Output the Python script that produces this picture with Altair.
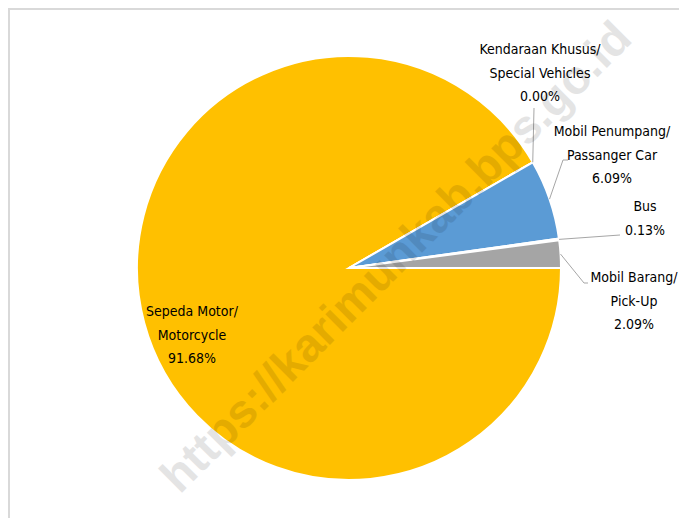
import math
import altair as alt
import pandas as pd

# ---- data (clockwise from 3 o'clock) ----
keys = ["motor", "khusus", "penumpang", "bus", "barang"]
categories = ["Sepeda Motor/\nMotorcycle", "Kendaraan Khusus/\nSpecial Vehicles",
              "Mobil Penumpang/\nPassanger Car", "Bus", "Mobil Barang/\nPick-Up"]
shares = [91.68, 0.00, 6.09, 0.13, 2.09]
colors = ["#FFC000", "#4472C4", "#5B9BD5", "#ED7D31", "#A5A5A5"]
watermark = "https://karimunkab.bps.go.id"

# ---- layout (pixels) ----
W, H = 671, 510
CX, CY, R = 341, 260, 212
FONT = "DejaVu Sans Condensed, Liberation Sans Narrow, sans-serif"
# label first-line centre and leader-line bend points
label_pos = {
    "motor": (184, 304),
    "khusus": (532, 42),
    "penumpang": (604, 124),
    "bus": (637, 199),
    "barang": (626, 270),
}
leader_bends = {
    "khusus": [(526, 100)],
    "penumpang": [(555, 152), (560, 152)],
    "bus": [(612, 227)],
    "barang": [(576, 275), (580, 275)],
}

df = pd.DataFrame({
    "key": keys,
    "name": categories,
    "share": shares,
    "ord": list(range(len(keys))),
})
df["label"] = [f"{n}\n{s:.2f}%" for n, s in zip(categories, shares)]

# mid angles (vega convention: clockwise from 12 o'clock), start at 3 o'clock
start = math.pi / 2
total = sum(shares)
mids = {}
acc = 0.0
for k, s in zip(keys, shares):
    a0 = start + 2 * math.pi * acc / total
    acc += s
    a1 = start + 2 * math.pi * acc / total
    mids[k] = (a0 + a1) / 2

df["lx"] = [label_pos[k][0] for k in keys]
df["ly"] = [label_pos[k][1] for k in keys]

rows = []
for k, pts in leader_bends.items():
    a = mids[k]
    rows.append({"key": k, "seq": 0, "px": CX + R * math.sin(a), "py": CY - R * math.cos(a)})
    for i, (px, py) in enumerate(pts):
        rows.append({"key": k, "seq": i + 1, "px": px, "py": py})
lines = pd.DataFrame(rows)

border = alt.Chart(pd.DataFrame({"a": [0]})).mark_rect(
    fill="transparent", stroke="#D9D9D9", strokeWidth=2
).encode(x=alt.value(1), y=alt.value(1), x2=alt.value(W + 20), y2=alt.value(H + 20))

pie = alt.Chart(df).mark_arc(outerRadius=R, stroke="white", strokeWidth=2).encode(
    theta=alt.Theta("share:Q", stack=True,
                    scale=alt.Scale(range=[math.pi / 2, math.pi / 2 + 2 * math.pi])),
    color=alt.Color("key:N", scale=alt.Scale(domain=keys, range=colors), legend=None),
    order=alt.Order("ord:Q"),
    x=alt.value(CX),
    y=alt.value(CY),
)

leaders = alt.Chart(lines).mark_line(color="#A6A6A6", strokeWidth=1).encode(
    x=alt.X("px:Q", scale=None, axis=None),
    y=alt.Y("py:Q", scale=None, axis=None),
    detail="key:N",
    order="seq:Q",
)

labels = alt.Chart(df).mark_text(
    font=FONT, fontSize=14, lineBreak="\n", lineHeight=23.5,
    align="center", baseline="middle", color="#000000"
).encode(
    x=alt.X("lx:Q", scale=None, axis=None),
    y=alt.Y("ly:Q", scale=None, axis=None),
    text="label:N",
)

wm = alt.Chart(pd.DataFrame({"t": [watermark]})).mark_text(
    font="Liberation Sans, Arial, sans-serif", fontSize=47, fontWeight="bold",
    angle=315, color="#000000", opacity=0.1, align="center", baseline="middle"
).encode(x=alt.value(389), y=alt.value(250), text="t:N")

chart = alt.layer(border, pie, leaders, labels, wm).properties(
    width=W, height=H, padding=0, autosize=alt.AutoSizeParams(type="none"),
    background="white"
).configure_view(stroke=None)

chart.save("out.html", embed_options={"renderer": "svg", "actions": False})
